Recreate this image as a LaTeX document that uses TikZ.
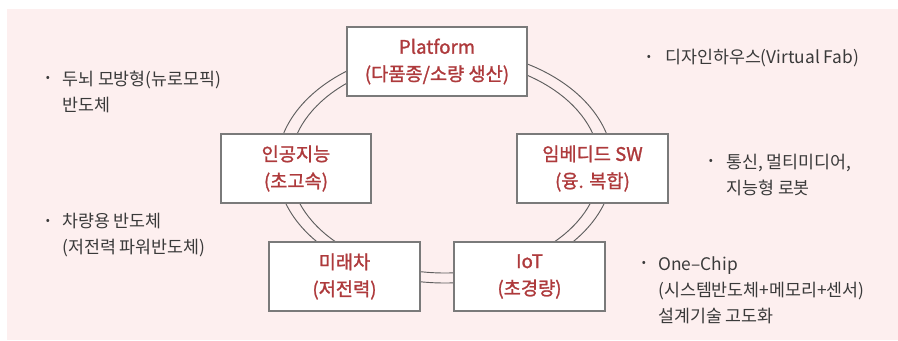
\documentclass[tikz,border=0pt]{standalone}
\usepackage{fontspec}
\setmainfont{Noto Sans CJK KR}
\newfontfamily\boxfont[FakeBold=1.3]{Noto Sans CJK KR}
\definecolor{bgpink}{HTML}{FDEFEF}
\definecolor{boxred}{HTML}{AE3A3C}
\definecolor{txtgray}{HTML}{3A3A3A}
\definecolor{ringgray}{HTML}{5E5E5E}
\definecolor{boxline}{HTML}{7A7A7A}
\begin{document}
\begin{tikzpicture}[x=0.75pt,y=-0.75pt,
  stagebox/.style={draw=boxline, line width=0.9pt, fill=white, minimum height=51.75pt, inner sep=0pt, align=center, text=boxred, font=\boxfont\fontsize{14}{20.25}\selectfont},
  itemtext/.style={anchor=west, inner sep=0pt, align=left, text=txtgray, font=\fontsize{13}{19.5}\selectfont},
  bulletdot/.style={inner sep=0pt, text=txtgray, font=\fontsize{9}{9}\selectfont},
  ringline/.style={draw=ringgray, line width=0.7pt}]
\useasboundingbox (0,0) rectangle (898,340);
\fill[bgpink] (7,9) rectangle (898,340);
% ring
\draw[ringline] (445,166) ellipse [x radius=168, y radius=117];
\draw[ringline] (445,166) ellipse [x radius=155, y radius=107];
% boxes
\node[stagebox, minimum width=135pt] (plat) at (437,61.5) {Platform\\(다품종/소량 생산)};
\node[stagebox, minimum width=112.5pt] (ai) at (296,168.5) {인공지능\\(초고속)};
\node[stagebox, minimum width=113.25pt] (car) at (344.5,276.5) {미래차\\(저전력)};
\node[stagebox, minimum width=113.25pt] (sw) at (592.5,168.5) {임베디드 SW\\(융. 복합)};
\node[stagebox, minimum width=113.25pt] (iot) at (529.5,276.5) {IoT\\(초경량)};
% left items
\node[bulletdot] (b1) at (48,79) {•};
\node[itemtext] (t1) at (62,92) {두뇌 모방형(뉴로모픽)\\반도체};
\node[bulletdot] (b2) at (48,222) {•};
\node[itemtext] (t2) at (62,235.5) {차량용 반도체\\(저전력 파워반도체)};
% right items
\node[bulletdot] (b3) at (649,58) {•};
\node[itemtext] (t3) at (665,58) {디자인하우스(Virtual Fab)};
\node[bulletdot] (b4) at (711,162) {•};
\node[itemtext] (t4) at (726,175) {통신, 멀티미디어,\\지능형 로봇};
\node[bulletdot] (b5) at (644,264) {•};
\node[itemtext] (t5) at (658,290) {One–Chip\\(시스템반도체+메모리+센서)\\설계기술 고도화};
\end{tikzpicture}
\end{document}
